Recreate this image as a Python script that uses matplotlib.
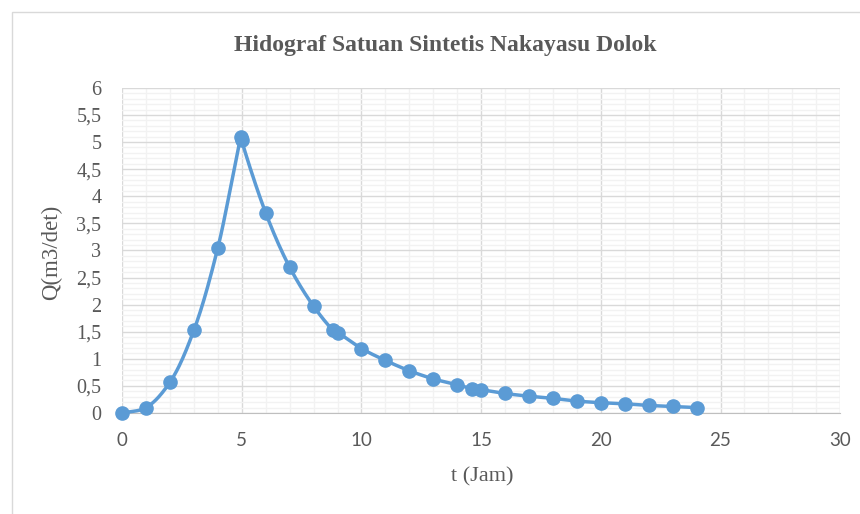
import numpy as np
import matplotlib
matplotlib.use("Agg")
import matplotlib.pyplot as plt
from matplotlib.ticker import MultipleLocator, FuncFormatter
from matplotlib.patches import Rectangle

# data
t_jam = [0, 1, 2, 3, 4, 4.98, 5, 6, 7, 8, 8.82, 9.03, 10, 11, 12, 13, 14,
         14.61, 15, 16, 17, 18, 19, 20, 21, 22, 23, 24]
q_debit = [0, 0.1, 0.57, 1.53, 3.05, 5.09, 5.03, 3.69, 2.69, 1.97, 1.53, 1.48,
           1.19, 0.97, 0.78, 0.63, 0.52, 0.45, 0.43, 0.36, 0.31, 0.27, 0.22,
           0.19, 0.17, 0.14, 0.12, 0.10]

plt.rcParams['font.family'] = ['Liberation Serif', 'DejaVu Serif']


def smooth(x, y, sx=718 / 30, sy=325 / 6, n=20):
    # centripetal catmull-rom, done in pixel units so the peak doesn't overshoot
    p = np.column_stack([np.asarray(x) * sx, np.asarray(y) * sy]).astype(float)
    p = np.vstack([2 * p[0] - p[1], p, 2 * p[-1] - p[-2]])
    out = []
    for i in range(1, len(p) - 2):
        p0, p1, p2, p3 = p[i - 1], p[i], p[i + 1], p[i + 2]
        t0 = 0.0
        t1 = t0 + max(np.linalg.norm(p1 - p0), 1e-6) ** 0.5
        t2 = t1 + max(np.linalg.norm(p2 - p1), 1e-6) ** 0.5
        t3 = t2 + max(np.linalg.norm(p3 - p2), 1e-6) ** 0.5
        t = np.linspace(t1, t2, n, endpoint=False)[:, None]
        a1 = (t1 - t) / (t1 - t0) * p0 + (t - t0) / (t1 - t0) * p1
        a2 = (t2 - t) / (t2 - t1) * p1 + (t - t1) / (t2 - t1) * p2
        a3 = (t3 - t) / (t3 - t2) * p2 + (t - t2) / (t3 - t2) * p3
        b1 = (t2 - t) / (t2 - t0) * a1 + (t - t0) / (t2 - t0) * a2
        b2 = (t3 - t) / (t3 - t1) * a2 + (t - t1) / (t3 - t1) * a3
        out.append((t2 - t) / (t2 - t1) * b1 + (t - t1) / (t2 - t1) * b2)
    out.append(p[-2][None, :])
    out = np.vstack(out)
    return out[:, 0] / sx, out[:, 1] / sy


fig = plt.figure(figsize=(8.6, 5.14), dpi=100)
ax = fig.add_axes([0.142, 0.1965, 0.835, 0.6325])

fig.patches.append(Rectangle((12 / 860, -0.01), 1.0, 1 - 12 / 514 + 0.01,
                             transform=fig.transFigure, fill=False,
                             edgecolor='#D9D9D9', linewidth=1.0))

color = '#5B9BD5'
lx, ly = smooth(t_jam, q_debit)
ax.plot(lx, ly, color=color, linewidth=2.5, zorder=3, clip_on=False)
ax.plot(t_jam, q_debit, 'o', color=color, markersize=9.5, zorder=4, clip_on=False)

ax.set_xlim(0, 30)
ax.set_ylim(0, 6)
ax.xaxis.set_major_locator(MultipleLocator(5))
ax.xaxis.set_minor_locator(MultipleLocator(1))
ax.yaxis.set_major_locator(MultipleLocator(0.5))
ax.yaxis.set_minor_locator(MultipleLocator(0.1))
ax.yaxis.set_major_formatter(FuncFormatter(lambda v, p: f'{v:g}'.replace('.', ',')))

ax.grid(which='major', color='#D9D9D9', linewidth=1.0)
ax.grid(which='minor', color='#F2F2F2', linewidth=1.0)
ax.set_axisbelow(True)

for s in ['top', 'right', 'left']:
    ax.spines[s].set_visible(False)
ax.spines['bottom'].set_color('#BFBFBF')
ax.tick_params(which='both', length=0, colors='#595959')
ax.tick_params(axis='y', labelsize=14.5, pad=15)
ax.tick_params(axis='x', labelsize=13.5, pad=14)
for lab in ax.get_xticklabels():
    lab.set_fontfamily(['Lato', 'DejaVu Sans'])

fig.text(52 / 860, 1 - 252 / 514, 'Q(m3/det)', rotation=90, ha='center',
         va='center', fontsize=16.5, color='#595959')
fig.text(482 / 860, 1 - 477 / 514, 't (Jam)', ha='center', va='center',
         fontsize=16, color='#595959')
fig.text(445 / 860, 1 - 45 / 514, 'Hidograf Satuan Sintetis Nakayasu Dolok',
         ha='center', va='center', fontsize=17, fontweight='bold', color='#595959')

fig.savefig('out.png', dpi=100)
